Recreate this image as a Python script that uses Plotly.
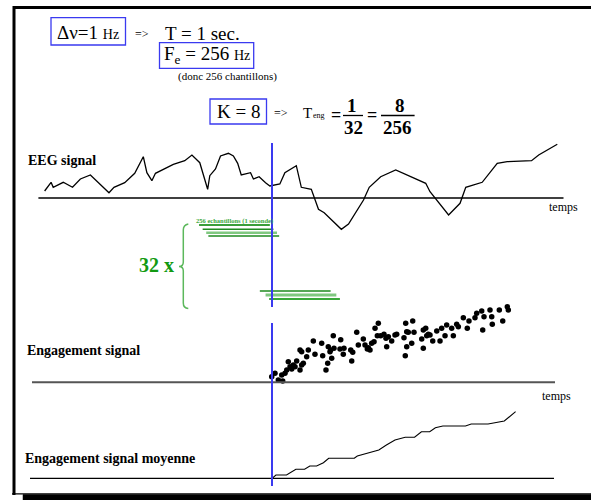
import plotly.graph_objects as go

W, H = 591, 500
FONT = "Liberation Serif"
BLUE = "#3a3af0"

# ---------------- data ----------------
DELTA_NU = 1          # Hz
T_WIN = 1             # sec
FE = 256              # Hz
K = 8
N_WIN = FE // K       # 32

# EEG signal (time in s, amplitude arbitrary units)
eeg_t = [-2.18, -2.09, -2.06, -1.92, -1.79, -1.68, -1.54, -1.42, -1.28, -1.21, -1.06, -0.92,
         -0.80, -0.75, -0.68, -0.63, -0.51, -0.38, -0.22, -0.12, -0.01, 0.10, 0.13, 0.21,
         0.28, 0.39, 0.46, 0.52, 0.57, 0.70, 0.74, 0.82, 0.91, 0.97, 1.11, 1.18, 1.34, 1.41,
         1.55, 1.65, 1.73, 1.97, 2.07, 2.28, 2.36, 2.52, 2.73, 3.15, 3.21, 3.47, 3.63, 3.71,
         3.94, 4.15, 4.29, 4.63, 4.73, 4.99]
eeg_amp = [7, 15.7, 10.7, 15.7, 10.7, 19, 23, 14.7, 5.3, 10.7, 15.3, 24.7,
           41.3, 25.3, 17.3, 24.7, 28.7, 33.7, 37.3, 43, 35.3, 8.7, 22.3, 29,
           42, 44.7, 42, 34.7, 23, 25.3, 19, 21.3, 15.3, 12, 14, 25.3, 32.3, 10.7,
           8.7, -11.3, -14.7, -31.3, -26, -2, 10.7, 21.3, 28, 14.7, 6.3, -17, -5.3, 10.7,
           15.7, 34.7, 36.3, 37.3, 43, 53.7]

# Engagement signal (one value every K samples)
eng_t = [0.996, 1.042, 1.088, 1.136, 1.150, 1.182, 1.206, 1.228, 1.252, 1.276, 1.298, 1.322,
         1.345, 1.392, 1.415, 1.438, 1.392, 1.415, 1.485, 1.508, 1.578, 1.601, 1.695, 1.709,
         1.755, 1.779, 1.787, 1.811, 1.821, 1.835, 1.857, 1.867, 1.961, 1.951, 1.997, 2.007,
         2.101, 2.115, 2.129, 2.185, 2.207, 2.277, 2.301, 2.333, 2.347, 2.371, 2.394, 2.427,
         2.441, 2.487, 2.473, 2.520, 2.566, 2.594, 2.604, 2.627, 2.674, 2.720, 2.744, 2.846,
         2.864, 2.870, 2.884, 2.884, 2.906, 2.954, 2.968, 2.986, 3.094, 3.116, 3.116, 3.150,
         3.164, 3.186, 3.210, 3.248, 3.304, 3.350, 3.373, 3.420, 3.443, 3.513, 3.536, 3.583,
         3.606, 3.676, 3.731, 3.755, 3.839, 3.863, 3.933, 3.947, 3.965, 4.049, 4.073, 4.081,
         4.179, 4.227, 4.291, 4.305]
eng_v = [5.6, 9, 2.3, 7.3, 1.3, 9, 12.3, 20.6, 15.6, 13.3, 17.3, 15.6,
         21.3, 12.3, 17.3, 19, 32.3, 30.6, 25.6, 32.3, 41.3, 28, 39, 26.6,
         12.3, 19, 35.6, 30.6, 32.3, 24, 46.6, 34, 42.6, 33.3, 28, 34,
         32.3, 21.3, 30, 50, 37.3, 43.3, 37.3, 33.3, 34.6, 32.3, 39, 40.6,
         54, 59, 46.6, 46.6, 48, 44, 35.6, 45.6, 41.3, 47.3, 48, 44.6,
         26.6, 59, 35.6, 50.6, 50, 39, 61.3, 50, 43.3, 34, 52.3, 54,
         46.6, 48, 47.3, 41.3, 51.3, 41.3, 54, 46.6, 57.3, 54, 46.6, 58,
         55.6, 64.6, 54, 61.3, 64.6, 69, 71.3, 52.3, 65.6, 72.3, 65.6, 58,
         72.3, 61.3, 75.6, 72.3]

# Engagement signal moyenne
moy_t = [1.001, 1.055, 1.203, 1.334, 1.456, 1.529, 1.624, 1.719, 1.793, 2.151, 2.193, 2.336,
         2.494, 2.600, 2.720, 2.863, 2.994, 3.090, 3.206, 3.285, 3.390, 3.706, 3.786, 4.022,
         4.102, 4.249, 4.407]
moy_v = [0, 3.3, 3.3, 9, 9, 12.3, 12.3, 15.6, 20, 20, 22.3, 25,
         28.3, 33.3, 38.3, 41, 41, 46.6, 46.6, 50.6, 52.3, 52.3, 54.3, 54.3,
         55.6, 57.3, 66.6]

# sliding windows of 256 samples (1 s)
win_start = [-0.02, 0.03, 0.08, 0.11, 0.83, 0.91, 0.96]
win_dur = [0.99, 0.99, 0.99, 0.99, 0.99, 0.99, 0.99]
win_level = [0, -4.3, -7.7, -11, -66, -70, -74]
win_color = ["#3a9e3a", "#1e8a1e", "#80c880", "#1e8a1e", "#1e8a1e", "#80c880", "#3aa83a"]
win_width = [2, 1.5, 2.5, 1.5, 1.5, 3, 2]

marker_t = 1.0   # instant marked by the blue line

# ---------------- layout helpers ----------------
PX_PER_S = 71.5
T0_PX = 200.5
x_range = [(0 - T0_PX) / PX_PER_S, (W - T0_PX) / PX_PER_S]


def PX(x):
    return x / W


def PY(y):
    return 1 - y / H


def P(x, y):
    return f"{PX(x):.5f},{PY(y):.5f}"


fig = go.Figure()

fig.add_trace(go.Scatter(x=eeg_t, y=eeg_amp, mode="lines", xaxis="x", yaxis="y",
                         line=dict(color="black", width=1.3), hoverinfo="skip"))
for s, d, lv, c, w in zip(win_start, win_dur, win_level, win_color, win_width):
    fig.add_trace(go.Scatter(x=[s, s + d], y=[lv, lv], mode="lines", xaxis="x", yaxis="y4",
                             line=dict(color=c, width=w), hoverinfo="skip"))
fig.add_trace(go.Scatter(x=eng_t, y=eng_v, mode="markers", xaxis="x", yaxis="y2",
                         marker=dict(color="black", size=5.5), hoverinfo="skip"))
fig.add_trace(go.Scatter(x=moy_t, y=moy_v, mode="lines", xaxis="x", yaxis="y3",
                         line=dict(color="black", width=1.1), hoverinfo="skip"))

shapes = []
# frame: left + top border, thin bottom line, thick bottom shadow
shapes.append(dict(type="path", xref="paper", yref="paper",
                   path=f"M {P(14, 495)} L {P(14, 7.5)} L {P(591, 7.5)}",
                   line=dict(color="black", width=3)))
shapes.append(dict(type="path", xref="paper", yref="paper",
                   path=f"M {P(12, 493.8)} L {P(591, 493.8)}",
                   line=dict(color="black", width=1.2)))
shapes.append(dict(type="path", xref="paper", yref="paper",
                   path=f"M {P(23, 494.5)} L {P(591, 494.5)} L {P(591, 500)} L {P(23, 500)} Z",
                   line=dict(color="black", width=0.5), fillcolor="black"))

# blue boxes
for (x0, x1, y0, y1) in [(51, 125.5, 17.7, 45), (159.5, 253.7, 42.7, 68.3), (210, 266.5, 99, 124)]:
    shapes.append(dict(type="rect", xref="paper", yref="paper", x0=PX(x0), x1=PX(x1), y0=PY(y1), y1=PY(y0),
                       line=dict(color=BLUE, width=1.3)))
# fraction bars
for (x0, x1) in [(343, 363), (381, 414.6)]:
    shapes.append(dict(type="line", xref="paper", yref="paper", x0=PX(x0), x1=PX(x1), y0=PY(115.5), y1=PY(115.5),
                       line=dict(color="black", width=1.3)))

# baselines
shapes.append(dict(type="line", xref="paper", yref="y", x0=PX(38.4), x1=PX(563.5), y0=0, y1=0,
                   line=dict(color="black", width=1.3)))
shapes.append(dict(type="line", xref="paper", yref="y2", x0=PX(32), x1=PX(555), y0=0, y1=0,
                   line=dict(color="#555555", width=2)))
shapes.append(dict(type="line", xref="paper", yref="y3", x0=PX(30), x1=PX(554), y0=0, y1=0,
                   line=dict(color="black", width=1.3)))

# blue marker line
for (ya, yb) in [(143, 307), (323, 486)]:
    shapes.append(dict(type="line", xref="x", yref="paper", x0=marker_t, x1=marker_t, y0=PY(ya), y1=PY(yb),
                       line=dict(color=BLUE, width=2)))

# brace
brace = (f"M {P(188.3, 224)} Q {P(183.3, 225)} {P(183.3, 230)} L {P(183.3, 262)} "
         f"Q {P(183.3, 266.5)} {P(179, 266.5)} Q {P(183.3, 266.5)} {P(183.3, 271)} "
         f"L {P(183.3, 303)} Q {P(183.3, 308)} {P(188.3, 308.5)}")
shapes.append(dict(type="path", xref="paper", yref="paper", path=brace,
                   line=dict(color="#5cb85c", width=1.5)))

ann = []


def txt(s, x, y, size, bold=False, color="black", anchor="left"):
    ann.append(dict(text=f"<b>{s}</b>" if bold else s, x=PX(x), y=PY(y), xref="paper", yref="paper",
                    showarrow=False, xanchor=anchor, yanchor="middle",
                    font=dict(family=FONT, size=size, color=color)))


txt(f"Δν={DELTA_NU} <span style='font-size:14px'>Hz</span>", 88.3, 32, 19, anchor="center")
txt("=>", 141.5, 34.5, 12, anchor="center")
txt(f"T = {T_WIN} sec.", 163, 33, 19)
txt(f"F<sub>e</sub> = {FE} <span style='font-size:14px'>Hz</span>", 206.6, 55.5, 19, anchor="center")
txt(f"(donc {FE} chantillons)", 227.5, 76.5, 11, anchor="center")
txt(f"K = {K}", 238.2, 112, 19, anchor="center")
txt("=>", 280.5, 113.5, 12, anchor="center")
txt("T", 307.5, 113, 15, anchor="center")
txt("eng", 318.5, 116, 8, anchor="center")
txt("=", 335.5, 115, 18, bold=True, anchor="center")
txt("1", 352, 106, 19, bold=True, anchor="center")
txt(f"{N_WIN}", 353, 127.5, 19, bold=True, anchor="center")
txt("=", 372, 115, 18, bold=True, anchor="center")
txt(f"{K}", 399.5, 106, 19, bold=True, anchor="center")
txt(f"{FE}", 397.5, 127.5, 19, bold=True, anchor="center")

txt("EEG signal", 25.6, 160, 14, bold=True)
txt("temps", 563.5, 207, 12, anchor="center")
txt(f"{FE} echantillons (1 seconde)", 194, 220.5, 6.5, bold=True, color="#3aa83a")
txt(f"{N_WIN} x", 136.7, 265, 20, bold=True, color="#129a12")
txt("Engagement signal", 24.5, 350, 14, bold=True)
txt("temps", 556, 395.7, 12, anchor="center")
txt("Engagement signal moyenne", 23.4, 458.3, 14, bold=True)

fig.update_layout(
    width=W, height=H,
    margin=dict(l=0, r=0, t=0, b=0),
    paper_bgcolor="white", plot_bgcolor="rgba(0,0,0,0)",
    showlegend=False,
    xaxis=dict(range=x_range, domain=[0, 1], visible=False, fixedrange=True),
    yaxis=dict(range=[-42, 68], domain=[PY(240), PY(130)], visible=False, fixedrange=True),
    yaxis2=dict(range=[-7.7, 82.3], domain=[PY(390), PY(300)], visible=False, anchor="x", fixedrange=True),
    yaxis3=dict(range=[-11.7, 78.3], domain=[PY(490), PY(400)], visible=False, anchor="x", fixedrange=True),
    yaxis4=dict(range=[-85, 10], domain=[PY(310), PY(215)], visible=False, anchor="x", fixedrange=True),
    shapes=shapes,
    annotations=ann,
)

fig.write_html("out.html", config={"displayModeBar": False},
               post_script="document.body.style.margin='0';document.body.style.overflow='hidden';")
